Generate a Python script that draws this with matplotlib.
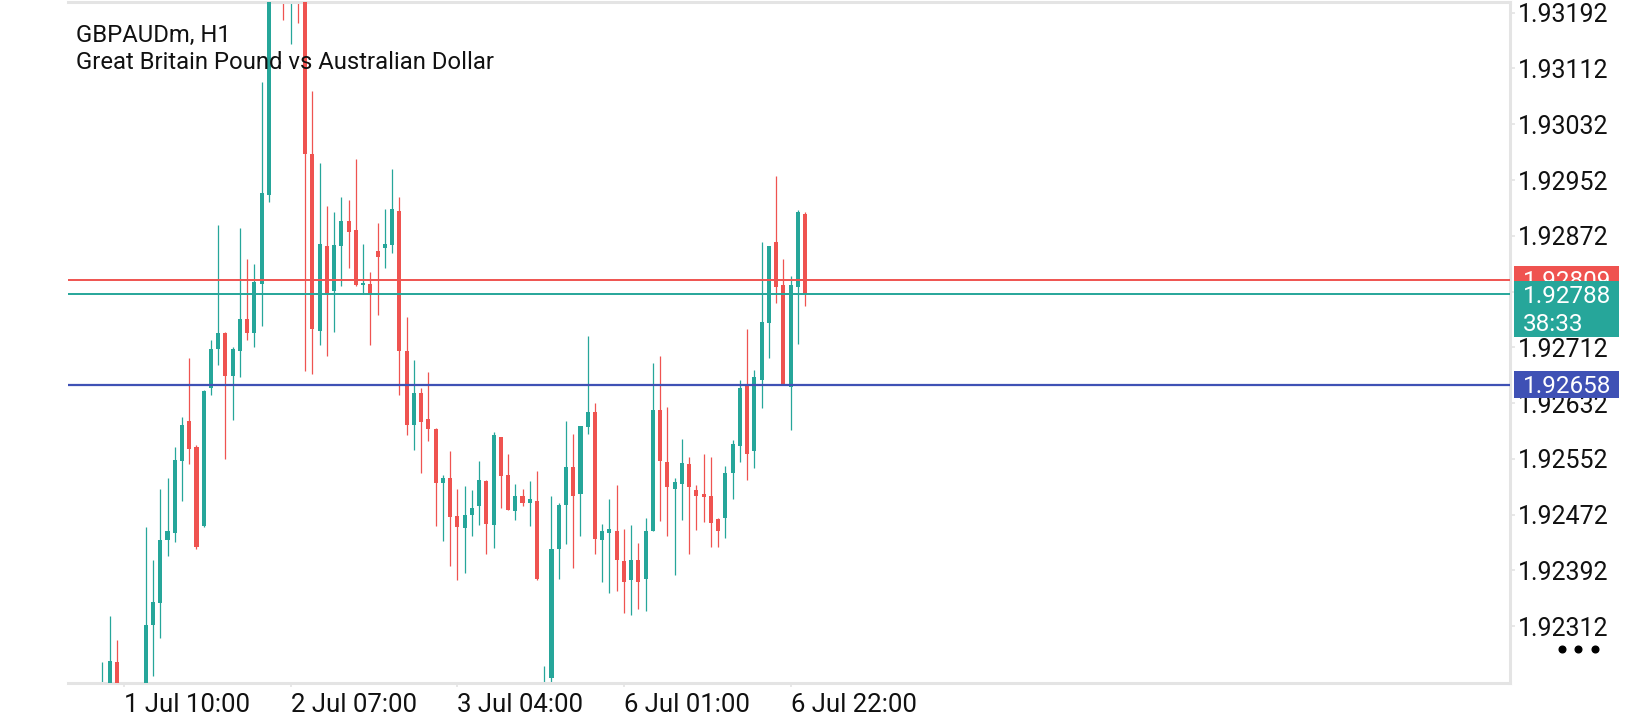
import matplotlib.pyplot as plt
import matplotlib.transforms as mtransforms
from matplotlib.patches import Rectangle

plt.rcParams['font.family'] = ['Roboto', 'DejaVu Sans']

# chart text
symbol = "GBPAUDm, H1"
description = "Great Britain Pound vs Australian Dollar"

# hourly bars, oldest first (a few sit outside the visible price range)
opens = [1.92195, 1.92215, 1.92261, 1.92205, 1.92180, 1.92200, 1.92215, 1.92314, 1.92345, 1.92436,
         1.92446, 1.92549, 1.92606, 1.92569, 1.92456, 1.92653, 1.92709, 1.92732, 1.92671, 1.92706,
         1.92752, 1.92733, 1.92803, 1.92930, 1.93240, 1.93260, 1.93225, 1.93250, 1.93225, 1.92990,
         1.92736, 1.92858, 1.92793, 1.92858, 1.92893, 1.92881, 1.92802, 1.92803, 1.92850, 1.92855,
         1.92859, 1.92908, 1.92707, 1.92601, 1.92646, 1.92609, 1.92595, 1.92518, 1.92524, 1.92470,
         1.92453, 1.92471, 1.92484, 1.92520, 1.92457, 1.92583, 1.92529, 1.92477, 1.92499, 1.92488,
         1.92492, 1.92195, 1.92237, 1.92422, 1.92486, 1.92540, 1.92502, 1.92598, 1.92619, 1.92435,
         1.92446, 1.92449, 1.92406, 1.92378, 1.92407, 1.92379, 1.92449, 1.92622, 1.92548, 1.92509,
         1.92516, 1.92545, 1.92508, 1.92501, 1.92498, 1.92465, 1.92467, 1.92532, 1.92570, 1.92657,
         1.92563, 1.92665, 1.92747, 1.92863, 1.92802, 1.92655, 1.92799, 1.92903]
highs = [1.92260, 1.92327, 1.92292, 1.92225, 1.92222, 1.92228, 1.92454, 1.92407, 1.92509, 1.92524,
         1.92569, 1.92612, 1.92697, 1.92572, 1.92651, 1.92722, 1.92887, 1.92734, 1.92712, 1.92883,
         1.92839, 1.92831, 1.93093, 1.93260, 1.93290, 1.93285, 1.93270, 1.93265, 1.93240, 1.93079,
         1.92977, 1.92915, 1.92906, 1.92928, 1.92923, 1.92982, 1.92860, 1.92820, 1.92890, 1.92911,
         1.92968, 1.92928, 1.92755, 1.92694, 1.92654, 1.92676, 1.92596, 1.92529, 1.92563, 1.92509,
         1.92513, 1.92508, 1.92549, 1.92521, 1.92590, 1.92584, 1.92559, 1.92516, 1.92509, 1.92520,
         1.92535, 1.92255, 1.92499, 1.92488, 1.92606, 1.92588, 1.92599, 1.92728, 1.92632, 1.92459,
         1.92495, 1.92515, 1.92452, 1.92457, 1.92431, 1.92467, 1.92690, 1.92700, 1.92627, 1.92524,
         1.92581, 1.92554, 1.92515, 1.92559, 1.92554, 1.92467, 1.92542, 1.92579, 1.92665, 1.92738,
         1.92680, 1.92863, 1.92858, 1.92958, 1.92839, 1.92814, 1.92909, 1.92906]
lows = [1.92180, 1.92200, 1.92190, 1.92160, 1.92170, 1.92185, 1.92205, 1.92240, 1.92295, 1.92413,
        1.92432, 1.92491, 1.92545, 1.92422, 1.92454, 1.92644, 1.92687, 1.92552, 1.92607, 1.92669,
        1.92722, 1.92712, 1.92743, 1.92920, 1.93215, 1.93182, 1.93147, 1.93177, 1.92678, 1.92674,
        1.92715, 1.92700, 1.92734, 1.92800, 1.92826, 1.92800, 1.92789, 1.92715, 1.92759, 1.92826,
        1.92848, 1.92644, 1.92586, 1.92564, 1.92531, 1.92577, 1.92456, 1.92434, 1.92398, 1.92378,
        1.92388, 1.92441, 1.92457, 1.92415, 1.92424, 1.92482, 1.92478, 1.92464, 1.92484, 1.92455,
        1.92378, 1.92180, 1.92232, 1.92380, 1.92430, 1.92396, 1.92442, 1.92588, 1.92415, 1.92376,
        1.92360, 1.92362, 1.92331, 1.92328, 1.92336, 1.92333, 1.92448, 1.92463, 1.92442, 1.92385,
        1.92464, 1.92415, 1.92450, 1.92461, 1.92425, 1.92425, 1.92439, 1.92494, 1.92548, 1.92522,
        1.92539, 1.92625, 1.92697, 1.92776, 1.92658, 1.92593, 1.92717, 1.92771]
closes = [1.92222, 1.92262, 1.92205, 1.92180, 1.92200, 1.92215, 1.92313, 1.92346, 1.92436, 1.92448,
          1.92550, 1.92601, 1.92566, 1.92425, 1.92649, 1.92709, 1.92733, 1.92671, 1.92710, 1.92752,
          1.92733, 1.92806, 1.92934, 1.93240, 1.93260, 1.93230, 1.93250, 1.93225, 1.92989, 1.92738,
          1.92860, 1.92789, 1.92859, 1.92893, 1.92878, 1.92802, 1.92804, 1.92789, 1.92842, 1.92860,
          1.92911, 1.92706, 1.92601, 1.92646, 1.92605, 1.92595, 1.92518, 1.92525, 1.92469, 1.92454,
          1.92472, 1.92482, 1.92522, 1.92459, 1.92586, 1.92527, 1.92479, 1.92499, 1.92488, 1.92495,
          1.92380, 1.92215, 1.92423, 1.92486, 1.92540, 1.92499, 1.92599, 1.92619, 1.92437, 1.92449,
          1.92451, 1.92407, 1.92376, 1.92407, 1.92376, 1.92449, 1.92622, 1.92549, 1.92511, 1.92519,
          1.92546, 1.92511, 1.92498, 1.92497, 1.92460, 1.92448, 1.92531, 1.92573, 1.92653, 1.92559,
          1.92670, 1.92748, 1.92858, 1.92799, 1.92659, 1.92801, 1.92906, 1.92788]

# time axis labels sit on these bars
tick_bars = [3, 26, 49, 72, 95]
tick_labels = ["1 Jul 10:00", "2 Jul 07:00", "3 Jul 04:00", "6 Jul 01:00", "6 Jul 22:00"]

price_ticks = [1.92312, 1.92392, 1.92472, 1.92552, 1.92632, 1.92712,
               1.92792, 1.92872, 1.92952, 1.93032, 1.93112, 1.93192]

ask = 1.92809
bid = 1.92788
level = 1.92658
countdown = "38:33"

GREEN = '#26a69a'
RED = '#ef5350'
BLUE = '#3f51b5'
GRID = '#e4e4e4'

ymin, ymax = 1.922304, 1.932074

fig = plt.figure(figsize=(16.4, 7.2), dpi=100)
ax = fig.add_axes([68 / 1640, 37 / 720, 1442 / 1640, 681 / 720])

x = list(range(len(opens)))
colors = [GREEN if c >= o else RED for o, c in zip(opens, closes)]
bottoms = [min(o, c) for o, c in zip(opens, closes)]
heights = [max(abs(c - o), 0.000015) for o, c in zip(opens, closes)]
ax.vlines(x, lows, highs, colors=colors, linewidth=0.9, zorder=2)
ax.bar(x, heights, bottom=bottoms, width=0.56, color=colors, linewidth=0, zorder=3)

ax.axhline(ask, color=RED, linewidth=1.4, zorder=4)
ax.axhline(bid, color=GREEN, linewidth=1.4, zorder=4)
ax.axhline(level, color=BLUE, linewidth=1.6, zorder=4)

ax.set_xlim(-4.735, 194.3)
ax.set_ylim(ymin, ymax)

for side in ['top', 'right', 'bottom']:
    ax.spines[side].set_color(GRID)
    ax.spines[side].set_linewidth(2.2)
ax.spines['left'].set_visible(False)

ax.yaxis.tick_right()
ax.set_yticks(price_ticks)
ax.set_yticklabels([f"{p:.5f}" for p in price_ticks])
ax.tick_params(axis='y', length=3.5, width=1.2, color=GRID, pad=2,
               labelsize=18, labelcolor='#111111')
ax.set_xticks(tick_bars)
ax.set_xticklabels(tick_labels)
for lab in ax.get_xticklabels():
    lab.set_horizontalalignment('left')
ax.tick_params(axis='x', length=3, width=1.2, color=GRID, pad=4,
               labelsize=18.5, labelcolor='#111111')

fig.text(76 / 1640, 1 - 42 / 720, symbol, fontsize=17.2, color='#111111', va='baseline')
fig.text(76 / 1640, 1 - 69 / 720, description, fontsize=17.2, color='#111111', va='baseline')

# price tags on the right axis
ppu = 681 / (ymax - ymin)   # pixels per price unit
trans = mtransforms.blended_transform_factory(ax.transAxes, ax.transData)
box_x = (1514 - 68) / 1442
box_w = 105 / 1442
text_x = (1523 - 68) / 1442


def tag(y, up_px, down_px, color, z):
    ax.add_patch(Rectangle((box_x, y - down_px / ppu), box_w, (up_px + down_px) / ppu,
                           transform=trans, facecolor=color, edgecolor='none',
                           clip_on=False, zorder=z))


def tag_text(y, s, z):
    ax.text(text_x, y - 8.3 / ppu, s, transform=trans, fontsize=17.5, color='white',
            va='baseline', ha='left', clip_on=False, zorder=z)


tag(ask, 14, 14, RED, 6)
tag_text(ask, f"{ask:.5f}", 6.5)
tag(bid, 13.3, 42.7, GREEN, 7)
tag_text(bid, f"{bid:.5f}", 7.5)
tag_text(bid - 28.7 / ppu, countdown, 7.5)
tag(level, 13.5, 13.5, BLUE, 6)
tag_text(level, f"{level:.5f}", 6.5)

ax.plot([1562 / 1640, 1578 / 1640, 1595 / 1640], [1 - 649 / 720] * 3, 'o',
        color='black', markersize=4.8, transform=fig.transFigure, clip_on=False)

fig.savefig('out.png', dpi=100, facecolor='white')
